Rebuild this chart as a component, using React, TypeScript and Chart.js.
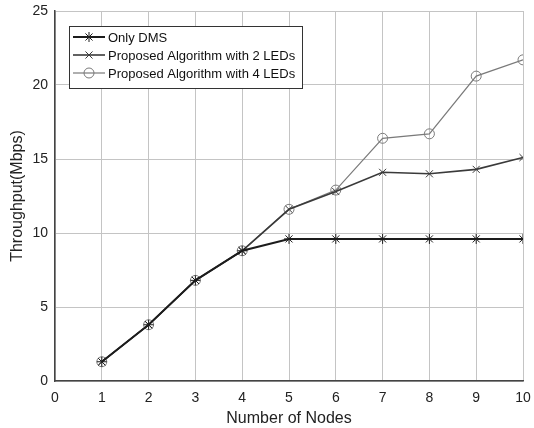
import React, { useEffect, useRef } from "react";
import { Chart, registerables } from "chart.js";

Chart.register(...registerables);

const xValues = [1, 2, 3, 4, 5, 6, 7, 8, 9, 10];
const onlyDms = [1.3, 3.8, 6.8, 8.8, 9.6, 9.6, 9.6, 9.6, 9.6, 9.6];
const twoLeds = [1.3, 3.8, 6.8, 8.8, 11.6, 12.8, 14.1, 14.0, 14.3, 15.1];
const fourLeds = [1.3, 3.8, 6.8, 8.8, 11.6, 12.9, 16.4, 16.7, 20.6, 21.7];
const seriesNames = ["Only DMS", "Proposed Algorithm with 2 LEDs", "Proposed Algorithm with 4 LEDs"];

const FONT = "'Liberation Sans', Arial, sans-serif";

function marker(ctx: CanvasRenderingContext2D, style: string, x: number, y: number, r: number) {
  ctx.beginPath();
  if (style === "circle") {
    ctx.arc(x, y, r, 0, Math.PI * 2);
  } else {
    const d = r * Math.SQRT1_2;
    ctx.moveTo(x - d, y - d); ctx.lineTo(x + d, y + d);
    ctx.moveTo(x - d, y + d); ctx.lineTo(x + d, y - d);
    if (style === "star") {
      ctx.moveTo(x, y - r); ctx.lineTo(x, y + r);
      ctx.moveTo(x - r, y); ctx.lineTo(x + r, y);
    }
  }
  ctx.stroke();
}

const legendPlugin = {
  id: "boxLegend",
  afterDraw(chart: any) {
    const ctx = chart.ctx;
    const left = 69, top = 26, right = 302, rowH = 18;
    const ds = chart.data.datasets;
    const bottom = top + 8 + rowH * ds.length;
    ctx.save();
    ctx.fillStyle = "#ffffff";
    ctx.fillRect(left, top, right - left, bottom - top);
    ctx.strokeStyle = "#333";
    ctx.lineWidth = 1;
    ctx.strokeRect(left + 0.5, top + 0.5, right - left, bottom - top);
    ds.forEach((d: any, i: number) => {
      const y = top + 11 + i * rowH;
      ctx.strokeStyle = d.borderColor;
      ctx.lineWidth = d.borderWidth;
      ctx.beginPath();
      ctx.moveTo(left + 4, y);
      ctx.lineTo(left + 36, y);
      ctx.stroke();
      ctx.lineWidth = 1;
      marker(ctx, d.pointStyle, left + 20, y, d.pointRadius);
      ctx.fillStyle = "#111";
      ctx.font = `13px ${FONT}`;
      ctx.textBaseline = "middle";
      ctx.textAlign = "left";
      ctx.fillText(d.label, left + 39, y + 1);
    });
    ctx.restore();
  },
};

export default function App() {
  const ref = useRef<HTMLCanvasElement | null>(null);
  useEffect(() => {
    if (!ref.current) return;
    const mk = (label: string, data: number[], color: string, style: string, r: number, bw: number) => ({
      label,
      data: data.map((v, i) => ({ x: xValues[i], y: v })),
      borderColor: color,
      backgroundColor: "rgba(0,0,0,0)",
      borderWidth: bw,
      pointStyle: style,
      pointRadius: r,
      pointBorderColor: color,
      pointBackgroundColor: "rgba(0,0,0,0)",
      pointBorderWidth: 1,
      tension: 0,
    });
    const chart = new Chart(ref.current, {
      type: "line",
      data: {
        datasets: [
          mk(seriesNames[0], onlyDms, "#1c1c1c", "star", 5, 2),
          mk(seriesNames[1], twoLeds, "#3a3a3a", "crossRot", 5, 1.6),
          mk(seriesNames[2], fourLeds, "#7a7a7a", "circle", 5, 1.2),
        ],
      },
      options: {
        animation: false,
        responsive: false,
        layout: { padding: { left: 8, right: 11, top: 11, bottom: 0 } },
        plugins: { legend: { display: false }, tooltip: { enabled: false } },
        scales: {
          x: {
            type: "linear",
            min: 0,
            max: 10,
            ticks: { stepSize: 1, color: "#222", font: { family: FONT, size: 14 }, padding: 9 },
            grid: { color: "#c4c4c4", lineWidth: 1, drawTicks: false },
            border: { color: "#444", width: 1.5 },
            title: { display: true, text: "Number of Nodes", color: "#222", font: { family: FONT, size: 16 }, padding: { top: 0, bottom: 0 } },
            afterFit: (s: any) => { s.height = 47; s.paddingLeft = 0; s.paddingRight = 0; },
          },
          y: {
            min: 0,
            max: 25,
            ticks: { stepSize: 5, color: "#222", font: { family: FONT, size: 14 }, padding: 7 },
            grid: { color: "#c4c4c4", lineWidth: 1, drawTicks: false },
            border: { color: "#444", width: 1.5 },
            title: { display: true, text: "Throughput(Mbps)", color: "#222", font: { family: FONT, size: 16 }, padding: { top: 0, bottom: 0 } },
            afterFit: (s: any) => { s.width = 47; s.paddingTop = 0; s.paddingBottom = 0; },
          },
        },
      },
      plugins: [legendPlugin],
    } as any);
    return () => chart.destroy();
  }, []);
  return (
    <div style={{ position: "fixed", left: 0, top: 0, width: 534, height: 428, background: "#fff" }}>
      <canvas ref={ref} width={534} height={428} style={{ display: "block" }} />
    </div>
  );
}
